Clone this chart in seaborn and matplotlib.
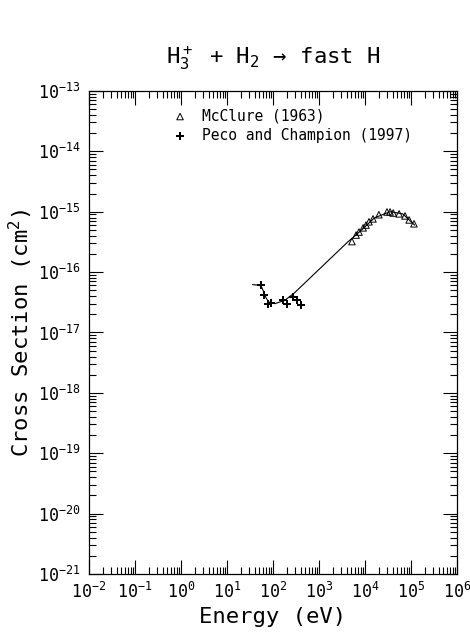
import matplotlib
matplotlib.use("Agg")
import matplotlib.pyplot as plt
import pandas as pd
import seaborn as sns

# McClure (1963)
mcclure_energy = [5.2e3, 6.4e3, 7.4e3, 9.1e3, 1.05e4, 1.22e4, 1.49e4, 2.0e4,
                  3.0e4, 3.5e4, 4.1e4, 5.5e4, 7.4e4, 9.1e4, 1.16e5]
mcclure_sigma = [3.2e-16, 4.1e-16, 4.6e-16, 5.4e-16, 6.0e-16, 6.8e-16, 7.6e-16, 8.9e-16,
                 9.9e-16, 9.9e-16, 9.5e-16, 9.2e-16, 8.5e-16, 7.3e-16, 6.3e-16]

# Peco and Champion (1997)
peco_energy = [55, 64, 78, 91, 165, 201, 272, 332, 407]
peco_sigma = [6.1e-17, 4.1e-17, 3.0e-17, 3.1e-17, 3.45e-17, 3.0e-17, 3.9e-17, 3.4e-17, 2.9e-17]

# recommended fit curve
fit_energy = [36, 45, 55, 62, 70, 80, 110, 180, 290, 4300, 8000, 1.6e4, 3.5e4, 6.6e4, 1.2e5]
fit_sigma = [6.2e-17, 6.1e-17, 5.9e-17, 4.8e-17, 3.8e-17, 3.2e-17, 3.0e-17, 3.4e-17, 4.5e-17,
             3.2e-16, 4.8e-16, 7.9e-16, 1.0e-15, 9.2e-16, 6.0e-16]

xtick_vals = [1e-2, 1e-1, 1e0, 1e1, 1e2, 1e3, 1e4, 1e5, 1e6]
xtick_labels = ["$10^{-2}$", "$10^{-1}$", "$10^{0}$", "$10^{1}$", "$10^{2}$",
                "$10^{3}$", "$10^{4}$", "$10^{5}$", "$10^{6}$"]
ytick_vals = [1e-21, 1e-20, 1e-19, 1e-18, 1e-17, 1e-16, 1e-15, 1e-14, 1e-13]
ytick_labels = ["$10^{-21}$", "$10^{-20}$", "$10^{-19}$", "$10^{-18}$", "$10^{-17}$",
                "$10^{-16}$", "$10^{-15}$", "$10^{-14}$", "$10^{-13}$"]

sns.set_style("ticks")
plt.rcParams["font.family"] = ["DejaVu Sans Mono", "DejaVu Sans"]
plt.rcParams["mathtext.fontset"] = "custom"
plt.rcParams["mathtext.rm"] = "DejaVu Sans Mono"
plt.rcParams["mathtext.default"] = "regular"
for key in ["text.color", "axes.labelcolor", "xtick.color", "ytick.color"]:
    plt.rcParams[key] = "black"

fig = plt.figure(figsize=(4.7, 6.34), dpi=100)
ax = fig.add_axes([0.1894, 0.0946, 0.783, 0.762])

fit_df = pd.DataFrame({"E": fit_energy, "s": fit_sigma})
mc_df = pd.DataFrame({"E": mcclure_energy, "s": mcclure_sigma})
pc_df = pd.DataFrame({"E": peco_energy, "s": peco_sigma})

sns.lineplot(data=fit_df, x="E", y="s", ax=ax, color="black", linewidth=0.8,
             sort=False, estimator=None)
sns.scatterplot(data=mc_df, x="E", y="s", ax=ax, marker="^", s=22,
                facecolor="none", edgecolor="black", linewidth=0.7,
                label="McClure (1963)")
sns.scatterplot(data=pc_df, x="E", y="s", ax=ax, marker="P", s=30,
                color="black", linewidth=0, label="Peco and Champion (1997)")

ax.set_xscale("log")
ax.set_yscale("log")
ax.set_xlim(1e-2, 1e6)
ax.set_ylim(1e-21, 1e-13)
ax.set_xticks(xtick_vals)
ax.set_xticklabels(xtick_labels)
ax.set_yticks(ytick_vals)
ax.set_yticklabels(ytick_labels)
ax.xaxis.set_minor_locator(matplotlib.ticker.LogLocator(base=10, subs=range(2, 10), numticks=100))
ax.yaxis.set_minor_locator(matplotlib.ticker.LogLocator(base=10, subs=range(2, 10), numticks=100))
ax.yaxis.set_minor_formatter(matplotlib.ticker.NullFormatter())
ax.xaxis.set_minor_formatter(matplotlib.ticker.NullFormatter())
ax.tick_params(which="both", direction="in", top=True, right=True, width=0.8, color="black")
ax.tick_params(which="major", length=10, labelsize=12, pad=6)
ax.tick_params(which="minor", length=5)
for sp in ax.spines.values():
    sp.set_linewidth(0.9)
    sp.set_color("black")

ax.set_xlabel("Energy (eV)", fontsize=16, labelpad=3)
ax.set_ylabel("Cross Section (cm$^2$)", fontsize=16, labelpad=2)
ax.set_title("H$_3^+$ + H$_2$ → fast H", fontsize=16, pad=20)

ax.legend(loc="upper left", bbox_to_anchor=(0.18, 0.985), frameon=False,
          fontsize=10.5, handletextpad=0.5, borderaxespad=0.3, labelspacing=0.3)

fig.savefig("out.png", dpi=100)
